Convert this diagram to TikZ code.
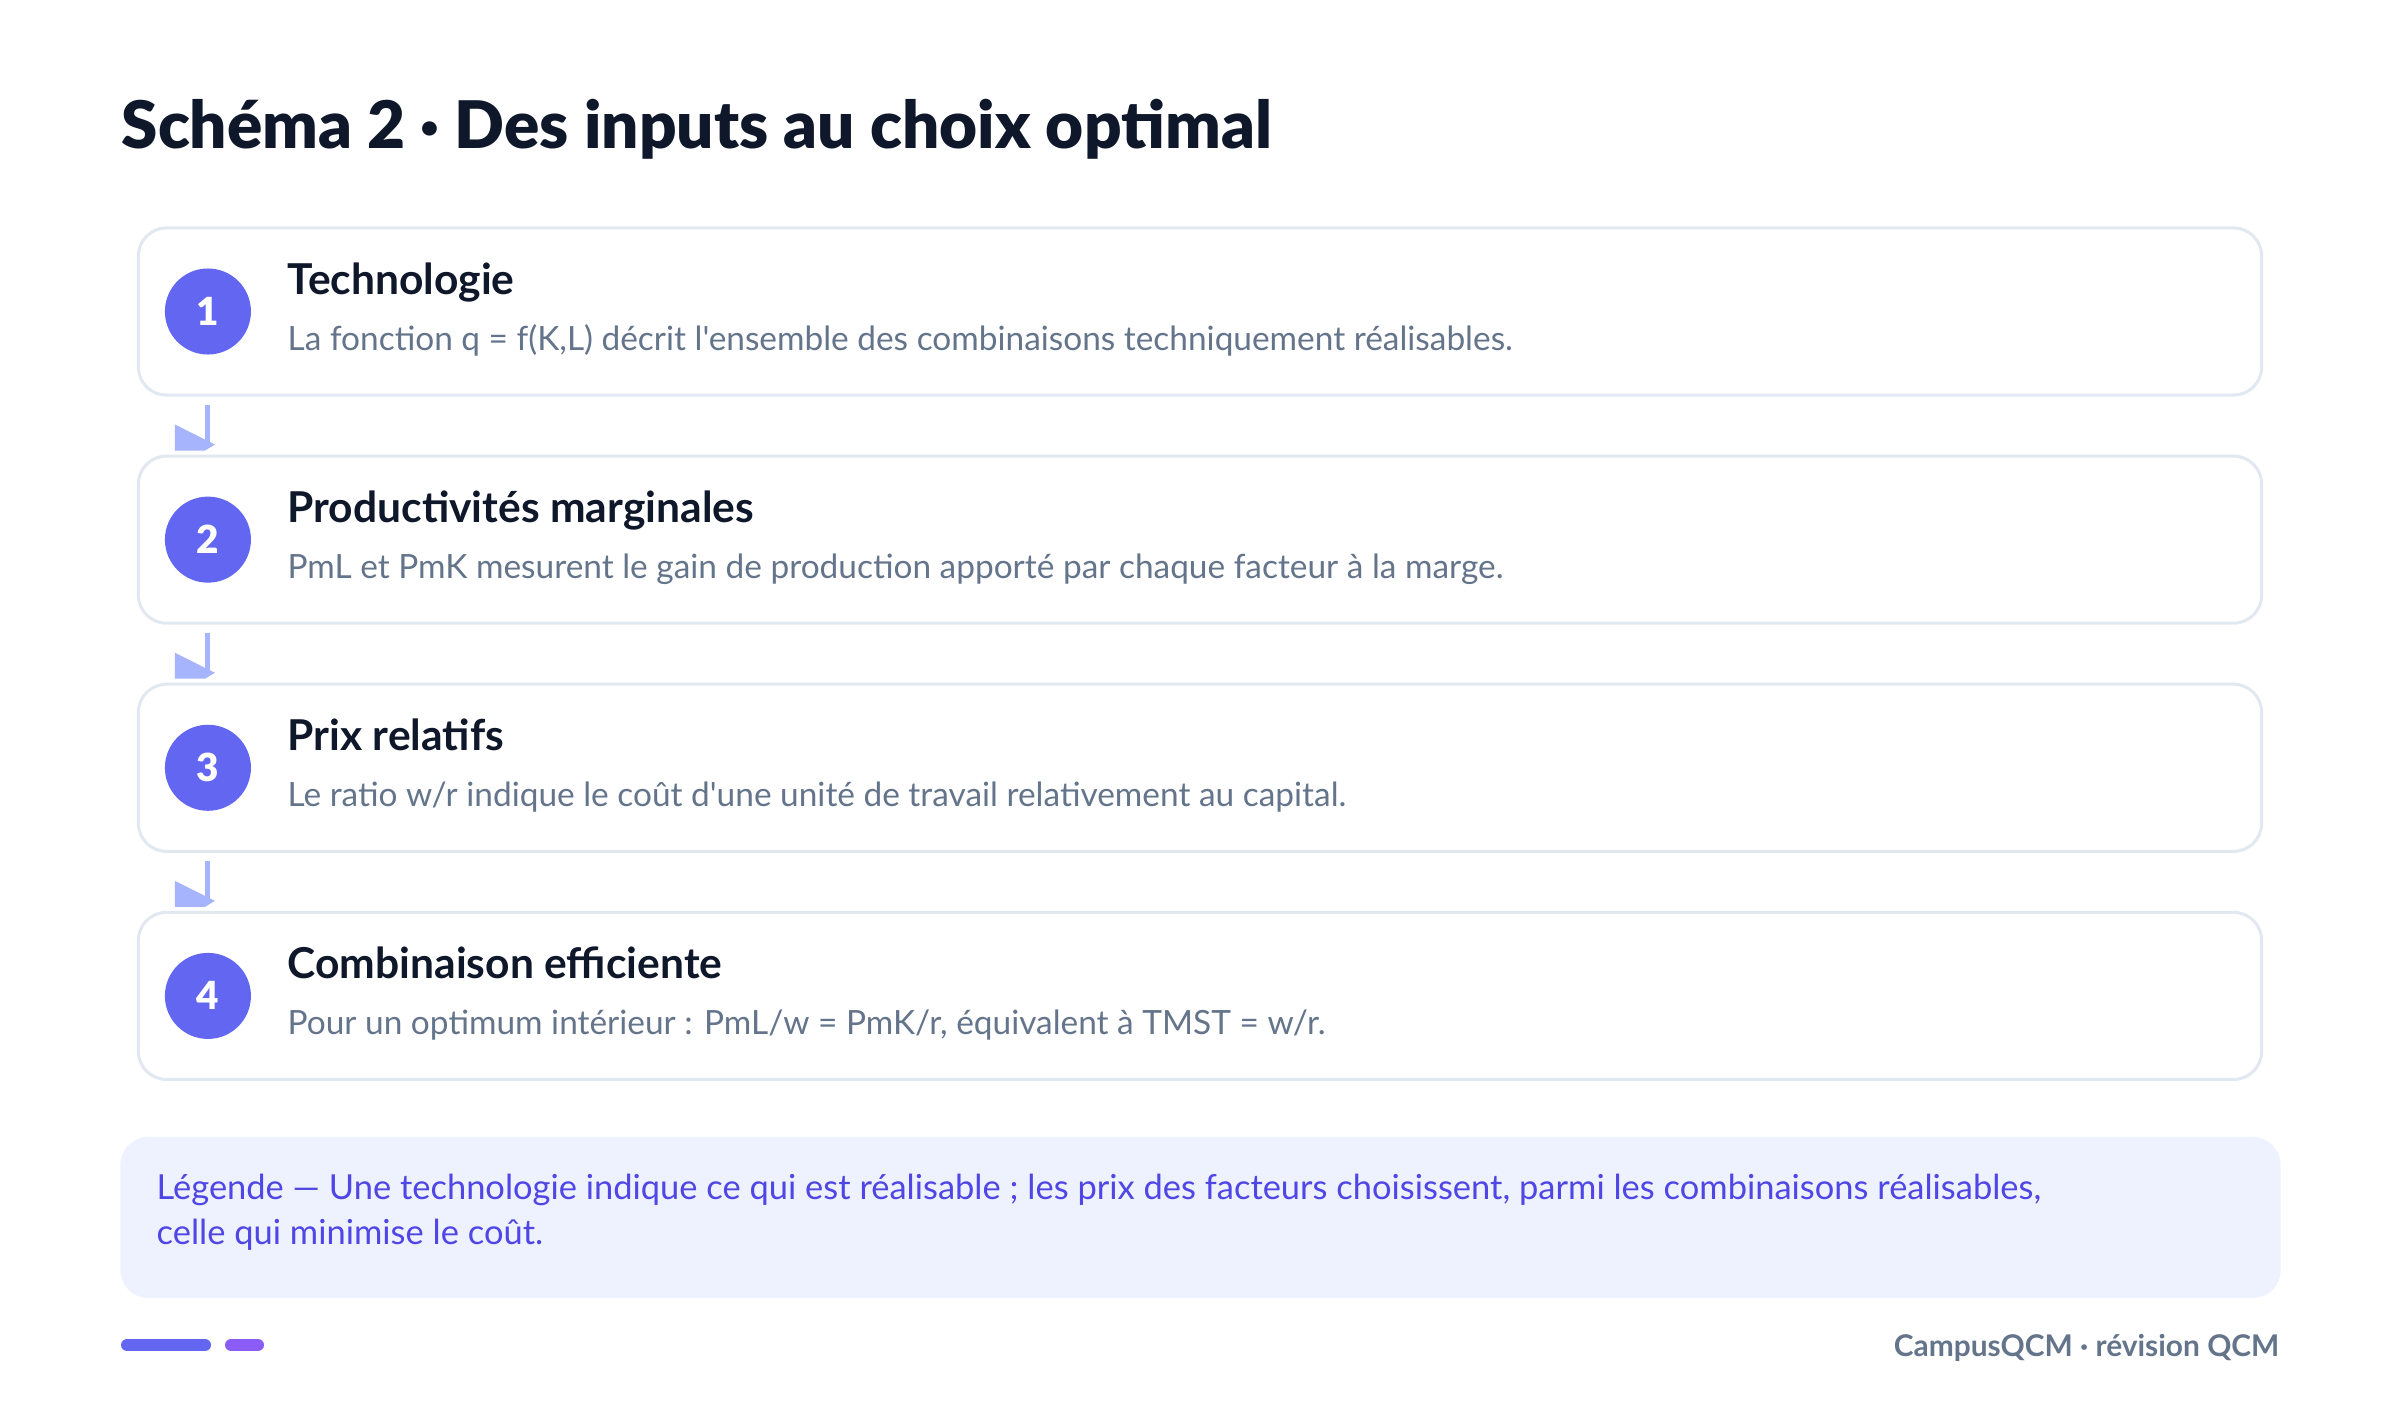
\documentclass[tikz,border=0pt]{standalone}
\usepackage{fontspec}
\newfontfamily\mainface{Lato}
\newfontfamily\heavyface{Lato Black}
\usetikzlibrary{positioning}
\definecolor{ink}{HTML}{0F172A}
\definecolor{slate}{HTML}{64748B}
\definecolor{indigo}{HTML}{6366F1}
\definecolor{violet}{HTML}{8B5CF6}
\definecolor{rim}{HTML}{E2E8F0}
\definecolor{flowclr}{HTML}{A5B4FC}
\definecolor{legfill}{HTML}{EEF2FF}
\definecolor{legink}{HTML}{4F46E5}
\tikzset{stage box/.style={rectangle,draw=rim,line width=0.03cm,fill=white,rounded corners=0.28cm,minimum width=21.22cm,minimum height=1.67cm,inner sep=0pt},
  num node/.style={circle,fill=indigo,text=white,minimum size=0.86cm,inner sep=0pt,font=\heavyface\fontsize{11}{13}\selectfont},
  head text/.style={anchor=base west,inner sep=0pt,text=ink,font=\fontsize{12.1}{14}\selectfont\bfseries},
  desc text/.style={anchor=base west,inner sep=0pt,text=slate,font=\fontsize{9.5}{12}\selectfont},
  flow/.style={draw=flowclr,line width=0.05cm},
  bar/.style={line width=0.12cm,line cap=round},
}

\begin{document}
\mainface
\begin{tikzpicture}[x=0.01cm,y=-0.01cm]
		\useasboundingbox[fill=white] (0,0) rectangle (2400,1406);
		\node[anchor=base west,inner sep=0pt,text=ink,font=\heavyface\fontsize{18.65}{22}\selectfont] (title) at (121,148) {Schéma 2 · Des inputs au choix optimal};
		
		\node[stage box] (box1) at (1200,311.5) {};
		\node[stage box](box2) [below = 0.58cm of box1]{};
		\node[stage box](box3) [below = 0.58cm of box2]{};
		\node[stage box](box4) [below = 0.58cm of box3]{};
		
		\node[num node] (n1) at ([xshift=0.71cm]box1.west) {1};
		\node[num node] (n2) at ([xshift=0.71cm]box2.west) {2};
		\node[num node] (n3) at ([xshift=0.71cm]box3.west) {3};
		\node[num node] (n4) at ([xshift=0.71cm]box4.west) {4};
		
		\node[head text] (h1) at ([xshift=1.5cm,yshift=0.17cm]box1.west) {Technologie};
		\node[desc text] (d1) at ([xshift=1.5cm,yshift=-0.39cm]box1.west) {La fonction q = f(K,L) décrit l'ensemble des combinaisons techniquement réalisables.};
		\node[head text] (h2) at ([xshift=1.5cm,yshift=0.17cm]box2.west) {Productivités marginales};
		\node[desc text] (d2) at ([xshift=1.5cm,yshift=-0.39cm]box2.west) {PmL et PmK mesurent le gain de production apporté par chaque facteur à la marge.};
		\node[head text] (h3) at ([xshift=1.5cm,yshift=0.17cm]box3.west) {Prix relatifs};
		\node[desc text] (d3) at ([xshift=1.5cm,yshift=-0.39cm]box3.west) {Le ratio w/r indique le coût d'une unité de travail relativement au capital.};
		\node[head text] (h4) at ([xshift=1.5cm,yshift=0.17cm]box4.west) {Combinaison efficiente};
		\node[desc text] (d4) at ([xshift=1.5cm,yshift=-0.39cm]box4.west) {Pour un optimum intérieur : PmL/w = PmK/r, équivalent à TMST = w/r.};
		
		% connectors, with the flat tip drawn by hand
		\draw[flow,shorten <=0.08cm,shorten >=0.07cm] (n1 |- box1.south) -- (n1 |- box2.north);
		\fill[flowclr] (n1 |- box2.north) ++(-33,-30) -- ++(40,20) -- ++(-10,6) -- ++(-30,0) -- cycle;
		\draw[flow,shorten <=0.08cm,shorten >=0.07cm] (n2 |- box2.south) -- (n2 |- box3.north);
		\fill[flowclr] (n2 |- box3.north) ++(-33,-30) -- ++(40,20) -- ++(-10,6) -- ++(-30,0) -- cycle;
		\draw[flow,shorten <=0.08cm,shorten >=0.07cm] (n3 |- box3.south) -- (n3 |- box4.north);
		\fill[flowclr] (n3 |- box4.north) ++(-33,-30) -- ++(40,20) -- ++(-10,6) -- ++(-30,0) -- cycle;
		
		\node[rectangle,fill=legfill,rounded corners=0.28cm,minimum width=21.59cm,minimum height=1.61cm,inner sep=0pt] (legend) at (1200.5,1217.5) {};
		\node[anchor=north west,inner sep=0pt,align=left,text=legink,font=\fontsize{9.8}{12.8}\selectfont] (legtext) at (156,1173) {Légende — Une technologie indique ce qui est réalisable ; les prix des facteurs choisissent, parmi les combinaisons réalisables,\\celle qui minimise le coût.};
		
		\draw[bar,indigo] (127,1345) -- (205,1345);
		\draw[bar,violet] (231,1345) -- (258,1345);
		\node[anchor=base east,inner sep=0pt,text=slate,font=\fontsize{8.5}{10}\selectfont\bfseries] (foot) at (2280,1356) {CampusQCM · révision QCM};
	\end{tikzpicture}
\end{document}
